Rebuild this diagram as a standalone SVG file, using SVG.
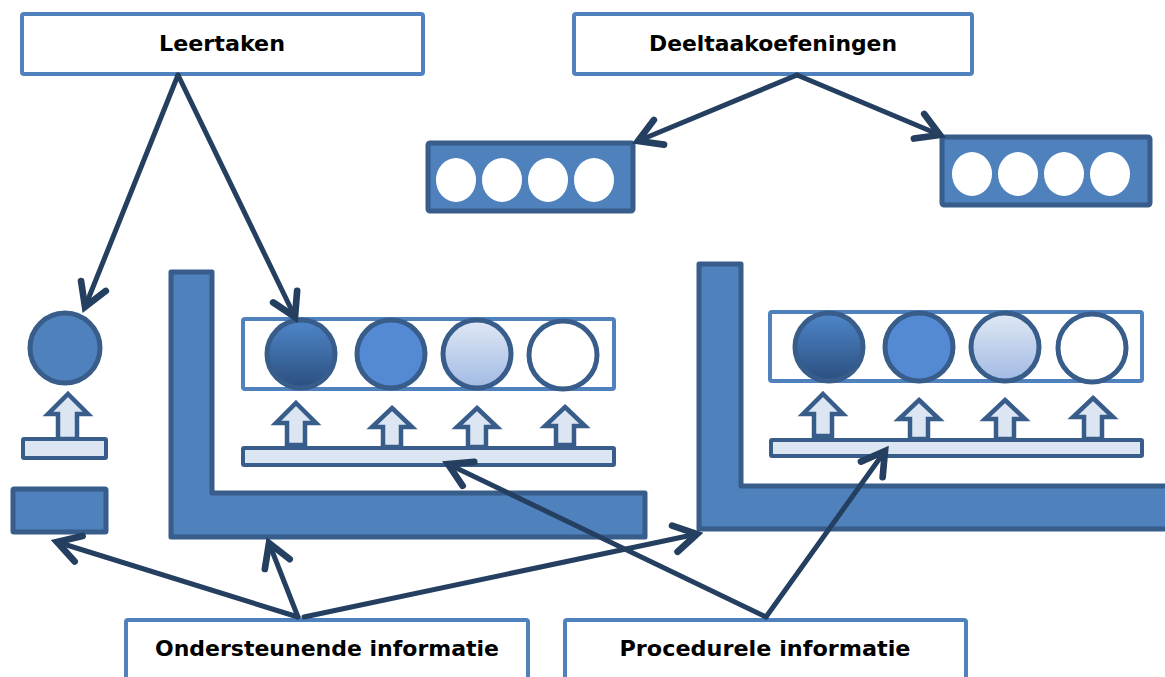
<svg xmlns="http://www.w3.org/2000/svg" width="1165" height="677" viewBox="0 0 1165 677">
<style>
.lbl{fill:#fff;stroke:#4f81bd;stroke-width:4}
.txt{font-family:"DejaVu Sans","Liberation Sans",sans-serif;font-weight:bold;font-size:21px;fill:#000;text-anchor:middle}
.dark{fill:#4f81bd;stroke:#385d8a;stroke-width:5;stroke-linejoin:round}
.wh{fill:#fff}
.row{fill:#fff;stroke:#4f81bd;stroke-width:4}
.bar{fill:#dce6f2;stroke:#385d8a;stroke-width:4;stroke-linejoin:round}
.up{fill:#dce6f2;stroke:#385d8a;stroke-width:4.5;stroke-linejoin:miter}
.c{stroke:#385d8a;stroke-width:5}
.con{stroke:#243f60;stroke-width:5;fill:none;stroke-linecap:round;marker-end:url(#ah)}
</style>
<defs>
<marker id="ah" markerUnits="userSpaceOnUse" markerWidth="40" markerHeight="40" viewBox="-25 -15 30 30" refX="0" refY="0" orient="auto">
<path d="M-17,-10 L0,0 L-17,10" fill="none" stroke="#243f60" stroke-width="5" stroke-linecap="round" stroke-linejoin="miter"/>
</marker>
<linearGradient id="g1" x1="0" y1="0" x2="0" y2="1"><stop offset="0" stop-color="#4f86c9"/><stop offset="1" stop-color="#2b4f80"/></linearGradient>
<linearGradient id="g3" x1="0" y1="0" x2="0" y2="1"><stop offset="0" stop-color="#e0e8f4"/><stop offset="1" stop-color="#a2bae4"/></linearGradient>
</defs>

<g id="leertaken"><rect class="lbl" x="22" y="14" width="401" height="60" rx="2"/><text class="txt" x="222" y="51" textLength="126" lengthAdjust="spacingAndGlyphs">Leertaken</text></g>
<g id="deeltaakoefeningen"><rect class="lbl" x="574" y="14" width="398" height="60" rx="2"/><text class="txt" x="773" y="51" textLength="248" lengthAdjust="spacingAndGlyphs">Deeltaakoefeningen</text></g>
<g id="ondersteunende"><rect class="lbl" x="126" y="620" width="402" height="70" rx="2"/><text class="txt" x="327" y="656" textLength="344" lengthAdjust="spacingAndGlyphs">Ondersteunende informatie</text></g>
<g id="procedurele"><rect class="lbl" x="565" y="620" width="401" height="70" rx="2"/><text class="txt" x="765" y="656" textLength="291" lengthAdjust="spacingAndGlyphs">Procedurele informatie</text></g>

<g id="deeltaak-left"><rect class="dark" x="428" y="143" width="205" height="68" rx="2"/>
<ellipse class="wh" cx="456" cy="180" rx="20" ry="22"/><ellipse class="wh" cx="502" cy="180" rx="20" ry="22"/><ellipse class="wh" cx="548" cy="180" rx="20" ry="22"/><ellipse class="wh" cx="594" cy="180" rx="20" ry="22"/></g>
<g id="deeltaak-right"><rect class="dark" x="942" y="137" width="208" height="68" rx="2"/>
<ellipse class="wh" cx="972" cy="174" rx="20" ry="22"/><ellipse class="wh" cx="1018" cy="174" rx="20" ry="22"/><ellipse class="wh" cx="1064" cy="174" rx="20" ry="22"/><ellipse class="wh" cx="1110" cy="174" rx="20" ry="22"/></g>

<g id="left-single">
<circle cx="65" cy="348" r="35" fill="#4f81bd" stroke="#385d8a" stroke-width="5"/>
<path class="up" d="M68,394 L88,414 L77,414 L77,439 L58,439 L58,414 L48,414 Z"/>
<rect class="bar" x="23" y="439" width="83" height="19" rx="1"/>
<rect class="dark" x="13" y="489" width="93" height="43" rx="1"/>
</g>

<g id="L-left"><path class="dark" d="M171,272 L212,272 L212,493 L645,493 L645,537 L171,537 Z"/></g>
<g id="L-right"><path class="dark" d="M699,264 L741,264 L741,486 L1170,486 L1170,529 L699,529 Z"/></g>

<g id="row-left">
<rect class="row" x="243" y="319" width="371" height="70" rx="2"/>
<circle class="c" cx="301" cy="354" r="34" fill="url(#g1)"/>
<circle class="c" cx="391" cy="354" r="34" fill="#538ad3"/>
<circle class="c" cx="477" cy="354" r="34" fill="url(#g3)"/>
<circle class="c" cx="563" cy="355" r="34" fill="#fff"/>
<path class="up" d="M296,403 L316,423 L305,423 L305,445 L287,445 L287,423 L276,423 Z"/>
<path class="up" d="M392,408 L412,427 L401,427 L401,447 L383,447 L383,427 L372,427 Z"/>
<path class="up" d="M477,408 L497,427 L486,427 L486,447 L468,447 L468,427 L457,427 Z"/>
<path class="up" d="M565,407 L585,426 L574,426 L574,445 L556,445 L556,426 L545,426 Z"/>
<rect class="bar" x="243" y="448" width="371" height="17" rx="1"/>
</g>

<g id="row-right">
<rect class="row" x="770" y="312" width="372" height="69" rx="2"/>
<circle class="c" cx="829" cy="347" r="34" fill="url(#g1)"/>
<circle class="c" cx="919" cy="347" r="34" fill="#538ad3"/>
<circle class="c" cx="1005" cy="347" r="34" fill="url(#g3)"/>
<circle class="c" cx="1092" cy="348" r="34" fill="#fff"/>
<path class="up" d="M823,394 L843,414 L832,414 L832,436 L814,436 L814,414 L803,414 Z"/>
<path class="up" d="M919,400 L939,419 L928,419 L928,439 L910,439 L910,419 L899,419 Z"/>
<path class="up" d="M1005,400 L1025,419 L1014,419 L1014,439 L996,439 L996,419 L985,419 Z"/>
<path class="up" d="M1093,398 L1113,417 L1102,417 L1102,439 L1084,439 L1084,417 L1073,417 Z"/>
<rect class="bar" x="771" y="440" width="371" height="16" rx="1"/>
</g>

<g id="connectors">
<line class="con" x1="178" y1="75" x2="85" y2="307"/>
<line class="con" x1="178" y1="75" x2="295" y2="317"/>
<line class="con" x1="797" y1="75" x2="638" y2="141"/>
<line class="con" x1="797" y1="75" x2="940" y2="135"/>
<line class="con" x1="298" y1="617" x2="57" y2="542"/>
<line class="con" x1="298" y1="617" x2="269" y2="543"/>
<line class="con" x1="304" y1="617" x2="697" y2="534"/>
<line class="con" x1="766" y1="617" x2="448" y2="464"/>
<line class="con" x1="766" y1="617" x2="885" y2="451"/>
</g>
</svg>
